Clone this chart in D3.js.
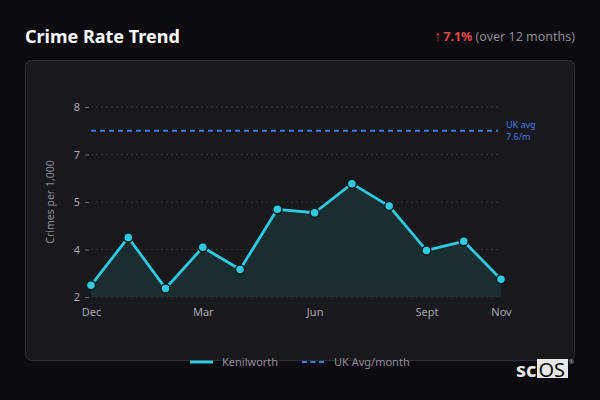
<!DOCTYPE html>
<html>
<head>
<meta charset="utf-8">
<script src="https://cdn.jsdelivr.net/npm/d3@7"></script>
<style>
  html, body { margin: 0; padding: 0; background: #0c0b10; }
  text { font-family: "Noto Sans", "Open Sans", sans-serif; }
</style>
</head>
<body>
<div id="chart"></div>
<script>
// Crime rate trend, dark card

const months = ["Dec", "Jan", "Feb", "Mar", "Apr", "May", "Jun", "Jul", "Aug", "Sep", "Oct", "Nov"];
const kenilworth = [2.37, 3.88, 2.27, 3.57, 2.87, 4.77, 4.66, 5.58, 4.87, 3.47, 3.76, 2.56];
const ukAvgLine = 7.25;            // where the dashed line sits in the picture
const ukAvgLabel = ["UK avg", "7.6/m"];
const yTicks = [2, 3.5, 5, 6.5, 8];
const xTickLabels = { Dec: "Dec", Mar: "Mar", Jun: "Jun", Sep: "Sept", Nov: "Nov" };
const legendNames = ["Kenilworth", "UK Avg/month"];

const width = 600,
    height = 400,
    margin = ({ top: 107, right: 99, bottom: 103, left: 91 });

const svg = d3.select("#chart")
    .append("svg")
    .attr("width", width)
    .attr("height", height)
    .attr("viewBox", [0, 0, width, height]);

svg.append("rect").attr("width", width).attr("height", height).attr("fill", "#0c0b10");

// title + change
svg.append("text")
    .attr("x", 25).attr("y", 43)
    .attr("fill", "#ffffff")
    .attr("font-size", 18)
    .attr("font-weight", 700)
    .text("Crime Rate Trend");

let change = svg.append("text")
    .attr("x", 575).attr("y", 41)
    .attr("text-anchor", "end")
    .attr("font-size", 12.5);
change.append("tspan").attr("fill", "#d9413f").attr("font-size", 14).text("↑");
change.append("tspan").attr("fill", "#e0484a").attr("font-weight", 700).attr("dx", 2).text("7.1%");
change.append("tspan").attr("fill", "#8a8a90").text(" (over 12 months)");

// card
svg.append("rect")
    .attr("x", 25.5).attr("y", 60.5)
    .attr("width", 549).attr("height", 300)
    .attr("rx", 6)
    .attr("fill", "#18181d")
    .attr("stroke", "#2c2c33");

let x = d3.scalePoint()
    .domain(months)
    .range([margin.left, width - margin.right]);

let y = d3.scaleLinear()
    .domain([2, 8])
    .range([height - margin.bottom, margin.top]);

// gridlines
svg.append("g")
    .selectAll("line")
    .data(yTicks)
    .join("line")
    .attr("x1", margin.left).attr("x2", width - margin.right)
    .attr("y1", d => y(d)).attr("y2", d => y(d))
    .attr("stroke", "#34343a")
    .attr("stroke-dasharray", "2,3");

// y axis
let yAxis = svg.append("g")
    .attr("transform", `translate(${margin.left - 2},0)`)
    .call(d3.axisLeft(y).tickValues(yTicks).tickFormat(d3.format(".0f")).tickSize(4).tickPadding(5));
yAxis.select(".domain").remove();
yAxis.selectAll("line").attr("stroke", "#6a6a70");
yAxis.selectAll("text").attr("fill", "#a8a8ae").attr("font-size", 11);

// x axis
let xAxis = svg.append("g")
    .attr("transform", `translate(0,${height - margin.bottom})`)
    .call(d3.axisBottom(x).tickValues(Object.keys(xTickLabels)).tickFormat(d => xTickLabels[d]).tickSize(0).tickPadding(11));
xAxis.select(".domain").remove();
xAxis.selectAll("text").attr("fill", "#a8a8ae").attr("font-size", 11);

svg.append("text")
    .attr("transform", `translate(54,${(y(2) + y(8)) / 2}) rotate(-90)`)
    .attr("text-anchor", "middle")
    .attr("fill", "#8e8e94")
    .attr("font-size", 10.5)
    .text("Crimes per 1,000");

// UK average
svg.append("line")
    .attr("x1", margin.left).attr("x2", width - margin.right - 3)
    .attr("y1", y(ukAvgLine)).attr("y2", y(ukAvgLine))
    .attr("stroke", "#3f7fe0")
    .attr("stroke-width", 2)
    .attr("stroke-dasharray", "5,4");

svg.append("g")
    .selectAll("text")
    .data(ukAvgLabel)
    .join("text")
    .attr("x", 506)
    .attr("y", (d, i) => y(ukAvgLine) - 3 + i * 12)
    .attr("fill", "#3f7fe0")
    .attr("font-size", 9)
    .text(d => d);

// area + line
let area = d3.area()
    .x((d, i) => x(months[i]))
    .y0(y(2))
    .y1(d => y(d));

svg.append("path")
    .datum(kenilworth)
    .attr("d", area)
    .attr("fill", "#1a2e33")
    .attr("fill-opacity", 0.95);

let line = d3.line()
    .x((d, i) => x(months[i]))
    .y(d => y(d));

svg.append("path")
    .datum(kenilworth)
    .attr("d", line)
    .attr("fill", "none")
    .attr("stroke", "#2ccbe0")
    .attr("stroke-width", 2.8)
    .attr("stroke-linejoin", "round");

svg.append("g")
    .selectAll("circle")
    .data(kenilworth)
    .join("circle")
    .attr("cx", (d, i) => x(months[i]))
    .attr("cy", d => y(d))
    .attr("r", 4.5)
    .attr("fill", "#2ccbe0")
    .attr("stroke", "#0e1a1e")
    .attr("stroke-width", 1.5);

// legend
let legend = svg.append("g").attr("transform", "translate(190,362)");
legend.append("line")
    .attr("x1", 0).attr("x2", 23).attr("y1", 0).attr("y2", 0)
    .attr("stroke", "#2ccbe0").attr("stroke-width", 3);
legend.append("text")
    .attr("x", 32).attr("y", 4)
    .attr("fill", "#8e8e94").attr("font-size", 11)
    .text(legendNames[0]);
legend.append("line")
    .attr("x1", 112).attr("x2", 136).attr("y1", 0).attr("y2", 0)
    .attr("stroke", "#3f7fe0").attr("stroke-width", 2)
    .attr("stroke-dasharray", "5,3.5");
legend.append("text")
    .attr("x", 144).attr("y", 4)
    .attr("fill", "#8e8e94").attr("font-size", 11)
    .text(legendNames[1]);

// logo
svg.append("text")
    .attr("x", 516).attr("y", 377)
    .attr("fill", "#e8e8e8")
    .attr("font-family", "Liberation Sans, Arial, sans-serif")
    .attr("font-size", 20)
    .attr("font-weight", 700)
    .text("sc");
svg.append("rect")
    .attr("x", 537).attr("y", 359)
    .attr("width", 31).attr("height", 19)
    .attr("fill", "#e8e8e8");
svg.append("text")
    .attr("x", 538.5).attr("y", 377)
    .attr("fill", "#0c0b10")
    .attr("font-family", "Liberation Sans, Arial, sans-serif")
    .attr("font-size", 20)
    .text("OS");
svg.append("text")
    .attr("x", 569).attr("y", 364)
    .attr("fill", "#bbbbbb")
    .attr("font-size", 6)
    .text("®");
</script>
</body>
</html>
